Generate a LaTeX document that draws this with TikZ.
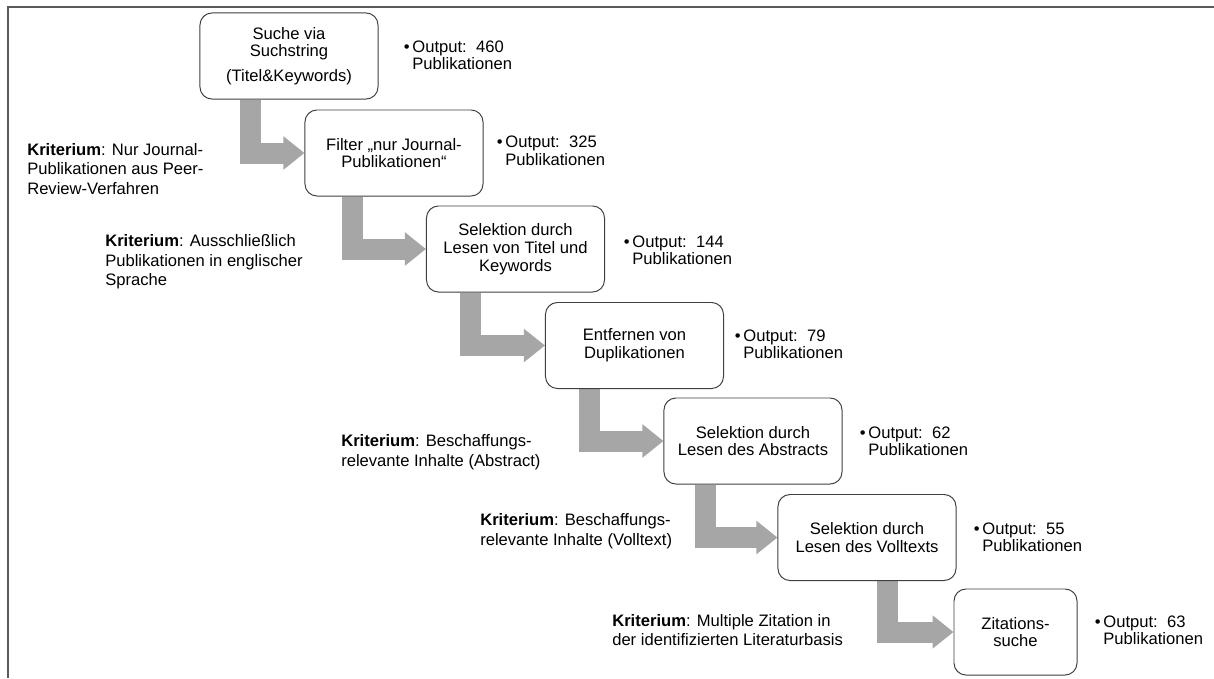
\documentclass[tikz,border=0pt]{standalone}
\usepackage{fontspec}
\setmainfont{Liberation Sans}
\usepackage{tikz}
\usetikzlibrary{arrows.meta,shapes,backgrounds,calc}

\definecolor{arrowgray}{HTML}{A6A6A6}
\definecolor{boxline}{HTML}{404040}
\definecolor{framegray}{HTML}{5A5A5A}
\newcommand{\outp}[1]{\textbullet\hspace{2pt}Output:\ \ #1\\\phantom{\textbullet}\hspace{2pt}Publikationen}

\begin{document}
\begin{tikzpicture}[x=0.025cm,y=-0.025cm]
	  \tikzstyle{stage}=[rectangle,rounded corners=0.3cm,draw=boxline,line width=0.7pt,fill=white,
				  minimum width=4.45cm,minimum height=2.15cm,align=center,inner sep=2pt,
				  font=\fontsize{11.8}{12.6}\selectfont]
	  \tikzstyle{output}=[anchor=west,align=left,inner sep=0pt,font=\fontsize{11.8}{12.4}\selectfont]
	  \tikzstyle{criterion}=[anchor=west,align=left,inner sep=0pt,font=\fontsize{11.8}{14}\selectfont]
	  \tikzstyle{flow}=[draw=arrowgray,line width=0.525cm,-{Triangle[length=0.525cm,width=0.8cm]}]

		\useasboundingbox (0,0) rectangle (1214,678);

		\node[stage] (s1) at (289,56) {Suche via\\Suchstring\\[5pt](Titel\&Keywords)};
		\node[stage] (s2) at (394,153) {Filter „nur Journal-\\Publikationen“};
		\node[stage] (s3) at (515.5,249) {Selektion durch\\Lesen von Titel und\\Keywords};
		\node[stage] (s4) at (634.5,345.5) {Entfernen von\\Duplikationen};
		\node[stage] (s5) at (753,441) {Selektion durch\\Lesen des Abstracts};
		\node[stage] (s6) at (867,537.5) {Selektion durch\\Lesen des Volltexts};
		\node[stage,minimum width=3.075cm] (s7) at (1015.5,632) {Zitations-\\suche};

		\node[output] (o1) at (403.5,55.5) {\outp{460}};
		\node[output] (o2) at (496.5,151) {\outp{325}};
		\node[output] (o3) at (623.5,250.5) {\outp{144}};
		\node[output] (o4) at (734.5,344.5) {\outp{79}};
		\node[output] (o5) at (859.5,441.5) {\outp{62}};
		\node[output] (o6) at (973.5,537) {\outp{55}};
		\node[output] (o7) at (1094.5,630.5) {\outp{63}};

		\node[criterion] (k1) at (27,169) {\textbf{Kriterium}: Nur Journal-\\Publikationen aus Peer-\\Review-Verfahren};
		\node[criterion] (k2) at (105,262) {\textbf{Kriterium}: Ausschließlich\\Publikationen in englischer\\Sprache};
		\node[criterion] (k3) at (341,452) {\textbf{Kriterium}: Beschaffungs-\\relevante Inhalte (Abstract)};
		\node[criterion] (k4) at (480,531) {\textbf{Kriterium}: Beschaffungs-\\relevante Inhalte (Volltext)};
		\node[criterion] (k5) at (612,630) {\textbf{Kriterium}: Multiple Zitation in\\der identifizierten Literaturbasis};

		\begin{scope}[on background layer]
		\draw[line width=1.4pt,framegray] (1214,7) -| (8,678);
		\draw[flow] ($(s1.south west)+(51,0)$) |- (s2.west);
		\draw[flow] ($(s2.south west)+(48.5,0)$) |- (s3.west);
		\draw[flow] ($(s3.south west)+(45,0)$) |- (s4.west);
		\draw[flow] ($(s4.south west)+(45,0)$) |- (s5.west);
		\draw[flow] ($(s5.south west)+(42,0)$) |- (s6.west);
		\draw[flow] ($(s6.south west)+(110,0)$) |- (s7.west);
		\end{scope}
		
	\end{tikzpicture}
\end{document}
